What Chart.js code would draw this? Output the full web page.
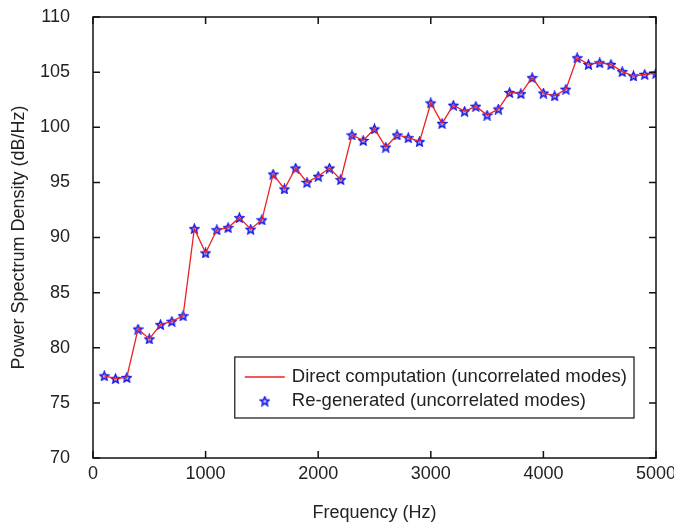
<!DOCTYPE html>
<html>
<head>
<meta charset="utf-8">
<script src="https://cdn.jsdelivr.net/npm/chart.js@4.4.1/dist/chart.umd.min.js"></script>
<style>
  html, body { margin: 0; padding: 0; background: #fff; }
  #wrap { width: 674px; height: 528px; }
</style>
</head>
<body>
<div id="wrap"><canvas id="psdChart" width="674" height="528"></canvas></div>
<script>
// Frequency bins (Hz)
const freq = [100, 200, 300, 400, 500, 600, 700, 800, 900, 1000,
              1100, 1200, 1300, 1400, 1500, 1600, 1700, 1800, 1900, 2000,
              2100, 2200, 2300, 2400, 2500, 2600, 2700, 2800, 2900, 3000,
              3100, 3200, 3300, 3400, 3500, 3600, 3700, 3800, 3900, 4000,
              4100, 4200, 4300, 4400, 4500, 4600, 4700, 4800, 4900, 5000];

// PSD, direct computation (dB/Hz)
const psdDirect = [77.45, 77.2, 77.3, 81.7, 80.8, 82.1, 82.4, 82.9, 90.8, 88.6,
                   90.7, 90.9, 91.8, 90.75, 91.6, 95.75, 94.4, 96.3, 95.0, 95.55,
                   96.3, 95.25, 99.3, 98.8, 99.85, 98.2, 99.3, 99.05, 98.7, 102.2,
                   100.35, 102.0, 101.45, 101.9, 101.1, 101.65, 103.15, 103.05, 104.5, 103.1,
                   102.85, 103.45, 106.3, 105.7, 105.85, 105.7, 105.05, 104.65, 104.8, 104.9];

// PSD, re-generated (dB/Hz)
const psdRegen = psdDirect.slice();

// Axis ticks
const xTicks = [0, 1000, 2000, 3000, 4000, 5000];
const yTicks = [70, 75, 80, 85, 90, 95, 100, 105, 110];

const FONT = '"Liberation Sans", Arial, sans-serif';
const FSIZE = 18;

// hollow five-pointed star used as point marker
function makeStar(size, color) {
    const c = document.createElement('canvas');
    c.width = size; c.height = size;
    const g = c.getContext('2d');
    const cx = size / 2, cy = size / 2 + 0.5;
    const R = size / 2 - 1, r = R * 0.45;
    g.beginPath();
    for (let i = 0; i < 10; i++) {
        const a = -Math.PI / 2 + i * Math.PI / 5;
        const rad = i % 2 === 0 ? R : r;
        const px = cx + rad * Math.cos(a), py = cy + rad * Math.sin(a);
        if (i === 0) g.moveTo(px, py); else g.lineTo(px, py);
    }
    g.closePath();
    g.fillStyle = 'rgba(120,120,255,0.35)';
    g.fill();
    g.strokeStyle = color;
    g.lineWidth = 1.6;
    g.stroke();
    return c;
}
const starImg = makeStar(11, '#1a1ae6');

// frame, inward ticks and legend box
const framePlugin = {
    id: 'frame',
    afterDraw(chart) {
        const ctx = chart.ctx;
        const a = chart.chartArea;
        const xs = chart.scales.x, ys = chart.scales.y;
        const tl = 7;
        ctx.save();
        ctx.strokeStyle = '#111';
        ctx.lineWidth = 1.5;
        ctx.strokeRect(a.left, a.top, a.right - a.left, a.bottom - a.top);
        ctx.beginPath();
        xTicks.forEach(v => {
            const px = xs.getPixelForValue(v);
            ctx.moveTo(px, a.bottom); ctx.lineTo(px, a.bottom - tl);
            ctx.moveTo(px, a.top); ctx.lineTo(px, a.top + tl);
        });
        yTicks.forEach(v => {
            const py = ys.getPixelForValue(v);
            ctx.moveTo(a.left, py); ctx.lineTo(a.left + tl, py);
            ctx.moveTo(a.right, py); ctx.lineTo(a.right - tl, py);
        });
        ctx.stroke();

        // legend
        const ds = chart.data.datasets;
        ctx.font = '18.5px ' + FONT;
        const textW = Math.max(...ds.map(d => ctx.measureText(d.label).width));
        const boxR = a.right - 22, boxB = a.bottom - 40;
        const boxW = 57 + textW + 7, boxH = 61;
        const boxL = boxR - boxW, boxT = boxB - boxH;
        ctx.fillStyle = '#fff';
        ctx.fillRect(boxL, boxT, boxW, boxH);
        ctx.lineWidth = 1.2;
        ctx.strokeStyle = '#111';
        ctx.strokeRect(boxL, boxT, boxW, boxH);
        const row1 = boxT + 20, row2 = boxT + 44;
        ctx.beginPath();
        ctx.strokeStyle = ds[0].borderColor;
        ctx.lineWidth = 1.3;
        ctx.moveTo(boxL + 10, row1); ctx.lineTo(boxL + 50, row1);
        ctx.stroke();
        ctx.drawImage(starImg, boxL + 30 - starImg.width / 2, row2 - starImg.height / 2);
        ctx.fillStyle = '#222';
        ctx.textBaseline = 'middle';
        ctx.fillText(ds[0].label, boxL + 57, row1);
        ctx.fillText(ds[1].label, boxL + 57, row2);
        ctx.restore();
    }
};

function initChart() {
    const ctx = document.getElementById('psdChart').getContext('2d');
    new Chart(ctx, {
        type: 'line',
        data: {
            datasets: [{
                label: 'Direct computation (uncorrelated modes)',
                data: freq.map((f, i) => ({ x: f, y: psdDirect[i] })),
                borderColor: '#ee2222',
                borderWidth: 1.3,
                pointRadius: 0,
                tension: 0
            }, {
                label: 'Re-generated (uncorrelated modes)',
                data: freq.map((f, i) => ({ x: f, y: psdRegen[i] })),
                showLine: false,
                pointStyle: starImg,
                pointRadius: 5
            }]
        },
        options: {
            responsive: false,
            animation: false,
            layout: { padding: { top: 17, right: 18, left: 0, bottom: 0 } },
            plugins: {
                legend: { display: false },
                tooltip: { enabled: false }
            },
            scales: {
                x: {
                    type: 'linear',
                    min: 0, max: 5000,
                    afterBuildTicks: s => { s.ticks = xTicks.map(v => ({ value: v })); },
                    afterFit: s => { s.height = 70; s.paddingLeft = 0; s.paddingRight = 0; },
                    grid: { display: false, drawTicks: false },
                    border: { display: false },
                    ticks: { color: '#222', padding: 5, font: { family: FONT, size: FSIZE }, maxRotation: 0,
                             callback: v => String(v) },
                    title: { display: true, text: 'Frequency (Hz)', color: '#222',
                             font: { family: FONT, size: FSIZE }, padding: { top: 0, bottom: 4 } }
                },
                y: {
                    min: 70, max: 110,
                    afterBuildTicks: s => { s.ticks = yTicks.map(v => ({ value: v })); },
                    afterFit: s => { s.width = 93; s.paddingTop = 0; s.paddingBottom = 0; },
                    grid: { display: false, drawTicks: false },
                    border: { display: false },
                    ticks: { color: '#222', padding: 23, font: { family: FONT, size: FSIZE } },
                    title: { display: true, text: 'Power Spectrum Density (dB/Hz)', color: '#222',
                             font: { family: FONT, size: FSIZE }, padding: { top: 8, bottom: 0 } }
                }
            }
        },
        plugins: [framePlugin]
    });
}

window.onload = initChart;
</script>
</body>
</html>
